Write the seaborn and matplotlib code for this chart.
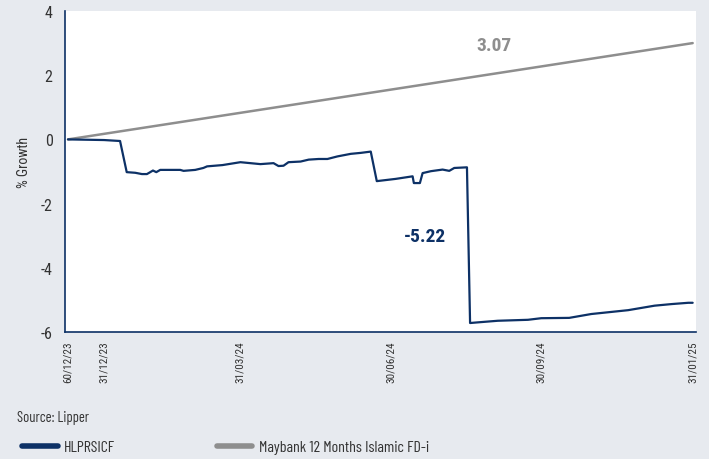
"""
Fund vs benchmark cumulative growth chart
"""
import pandas as pd
import matplotlib
matplotlib.use("Agg")
import matplotlib.pyplot as plt
from matplotlib import font_manager
import seaborn as sns

# x positions in chart units (0 = first date, 300 = last date)
fund_x = [0, 17.3, 25.0, 28.2, 32.3, 35.5, 37.9, 39.5, 40.8, 42.4, 44.3, 53.9, 55.5,
          61.1, 65.0, 66.8, 74.2, 82.8, 87.6, 92.4, 98.7, 101.1, 103.5, 105.9, 111.7,
          115.6, 120.4, 124.6, 129.4, 135.8, 140.6, 145.4, 148.3, 157.4, 165.5, 166.1,
          169.0, 170.3, 174.3, 179.9, 183.1, 185.5, 191.6, 193.1, 196.8, 206.4, 220.9,
          227.3, 240.7, 251.3, 269.0, 281.7, 289.9, 297.9, 300]
fund_y = [0.0, -0.02, -0.05, -1.02, -1.04, -1.08, -1.08, -1.02, -0.97, -1.02, -0.95,
          -0.95, -0.98, -0.95, -0.89, -0.84, -0.80, -0.71, -0.74, -0.77, -0.74, -0.83,
          -0.82, -0.71, -0.69, -0.63, -0.61, -0.61, -0.53, -0.45, -0.42, -0.38, -1.30,
          -1.23, -1.15, -1.36, -1.36, -1.05, -0.99, -0.94, -0.98, -0.89, -0.87, -5.72,
          -5.70, -5.65, -5.62, -5.57, -5.56, -5.44, -5.32, -5.18, -5.13, -5.09, -5.09]
bench_x = [0, 300]
bench_y = [0.0, 3.0]

tick_pos = [0, 17.3, 82.8, 155.0, 227.0, 300]
tick_labels = ["60/12/23", "31/12/23", "31/03/24", "30/06/24", "30/09/24", "31/01/25"]

fund_name = "HLPRSICF"
bench_name = "Maybank 12 Months Islamic FD-i"
fund_label = "-5.22"
bench_label = "3.07"

NAVY = "#0d3166"
GREY = "#8e8e8e"
BG = "#e7eaef"
TXT = "#333333"


def pick_font(candidates):
    # first candidate that has a regular weight installed
    regular = {f.name for f in font_manager.fontManager.ttflist if f.weight == 400}
    for name in candidates:
        if name in regular:
            return name
    return "DejaVu Sans"


condensed = pick_font(["Open Sans Condensed", "Noto Sans Condensed", "Roboto Condensed",
                       "Asap Condensed", "Barlow Semi Condensed", "Archivo Narrow"])
narrow = pick_font(["Barlow Condensed", "Open Sans Condensed", "Roboto Condensed"])

sns.set_style("white")
plt.rcParams["font.family"] = ["Open Sans", "DejaVu Sans"]
plt.rcParams["axes.unicode_minus"] = False
cfam = [condensed, "DejaVu Sans"]
nfam = [narrow, "DejaVu Sans"]

fig = plt.figure(figsize=(7.09, 4.60), dpi=100, facecolor=BG)
ax = fig.add_axes([65 / 709, 1 - 333 / 460, (696 - 65) / 709, (333 - 12) / 460])
ax.set_facecolor("white")

fund_df = pd.DataFrame({"x": fund_x, "y": fund_y})
bench_df = pd.DataFrame({"x": bench_x, "y": bench_y})

sns.lineplot(data=bench_df, x="x", y="y", ax=ax, color=GREY, linewidth=1.8,
             label=bench_name)
sns.lineplot(data=fund_df, x="x", y="y", ax=ax, color=NAVY, linewidth=1.6,
             label=fund_name)

ax.set_xlim(-1.44, 301.6)
ax.set_ylim(-6, 4)
ax.set_yticks([-6, -4, -2, 0, 2, 4])
ax.set_yticklabels(["-6", "-4", "-2", "0", "2", "4"], family=cfam, fontsize=11.5)
ax.set_xticks(tick_pos)
ax.set_xticklabels(tick_labels, rotation=90, fontsize=8, color=TXT, family=cfam)
ax.tick_params(axis="y", length=0, labelcolor=TXT, pad=9)
ax.tick_params(axis="x", length=4, width=1.2, color=NAVY, pad=2)
ax.set_xlabel("")
ax.set_ylabel("% Growth", fontsize=10, color=TXT, family=cfam)
ax.yaxis.set_label_coords(-34 / 631, 0.53)

for side in ["top", "right"]:
    ax.spines[side].set_visible(False)
for side in ["left", "bottom"]:
    ax.spines[side].set_color(NAVY)
    ax.spines[side].set_linewidth(1.2)

ax.text(171.5, -3.0, fund_label, color=NAVY, fontsize=14, fontweight="bold",
        ha="center", va="center", family=cfam)
ax.text(204.6, 2.94, bench_label, color=GREY, fontsize=14, fontweight="bold",
        ha="center", va="center", family=cfam)

handles, labels = ax.get_legend_handles_labels()
ax.get_legend().remove()
leg = fig.legend(handles[::-1], labels[::-1], loc="center left",
                 bbox_to_anchor=(8 / 709, 1 - 448 / 460), ncol=2, frameon=False,
                 handlelength=2.2, handletextpad=0.4, columnspacing=6.4,
                 prop={"family": nfam, "size": 11.5})
for line in leg.get_lines():
    line.set_linewidth(4)
    line.set_solid_capstyle("round")
for t in leg.get_texts():
    t.set_color(TXT)

fig.text(17 / 709, 1 - 418 / 460, "Source: Lipper", fontsize=10.5, color=TXT,
         family=nfam, va="center")

fig.savefig("out.png", dpi=100, facecolor=BG)
